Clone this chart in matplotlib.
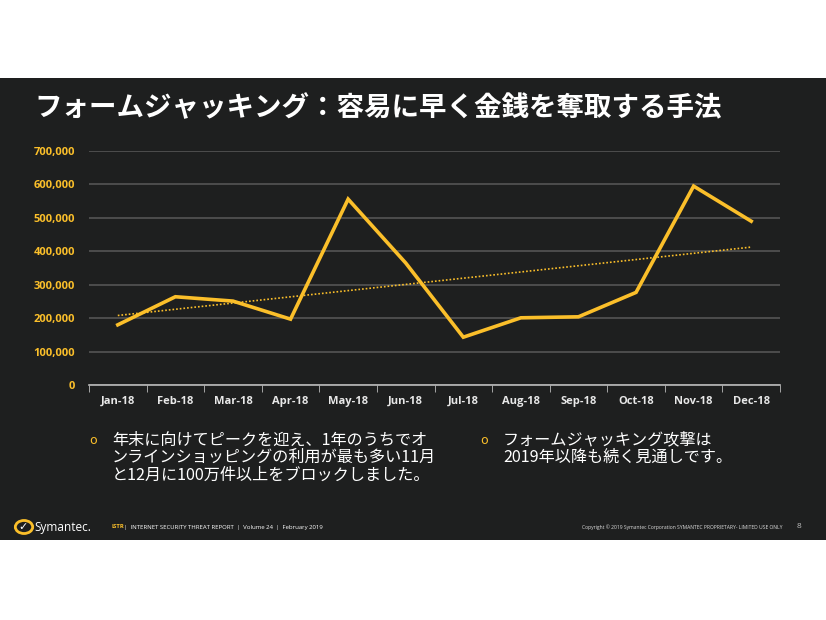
import numpy as np
import matplotlib.pyplot as plt
from matplotlib.patches import Rectangle, Circle

plt.rcParams['font.family'] = ['Noto Sans CJK JP', 'DejaVu Sans']

# データ
months = ['Jan-18', 'Feb-18', 'Mar-18', 'Apr-18', 'May-18', 'Jun-18',
          'Jul-18', 'Aug-18', 'Sep-18', 'Oct-18', 'Nov-18', 'Dec-18']
blocked = [180000, 264000, 251000, 197000, 556000, 365000,
           143000, 201000, 204000, 277000, 595000, 490000]
yticks = [0, 100000, 200000, 300000, 400000, 500000, 600000, 700000]

title = 'フォームジャッキング：容易に早く金銭を奪取する手法'
bullet1 = ['年末に向けてピークを迎え、1年のうちでオ',
           'ンラインショッピングの利用が最も多い11月',
           'と12月に100万件以上をブロックしました。']
bullet2 = ['フォームジャッキング攻撃は',
           '2019年以降も続く見通しです。']

yellow = '#fbbf2a'
bg = '#1e1f1f'

fig = plt.figure(figsize=(8.26, 6.2), dpi=100)
fig.patch.set_facecolor('white')
# スライドの黒い部分
fig.patches.append(Rectangle((0, 1 - 540 / 620), 1, 462 / 620, transform=fig.transFigure,
                             facecolor=bg, edgecolor='none', zorder=-5))

ax = fig.add_axes([89 / 826, 1 - 385 / 620, 691 / 826, 234 / 620], zorder=2)
ax.set_facecolor(bg)
x = np.arange(len(months))
ax.plot(x, blocked, color=yellow, lw=2.6, solid_joinstyle='miter', zorder=3)

# 線形近似（トレンドライン）
k, b = np.polyfit(x, blocked, 1)
ax.plot(x, k * x + b, color=yellow, lw=1.2, ls=(0, (1, 1.2)), zorder=2)

ax.set_xlim(-0.5, len(months) - 0.5)
ax.set_ylim(0, 700000)
ax.set_yticks(yticks)
ax.set_yticklabels(['{:,}'.format(v) for v in yticks], color=yellow,
                   fontsize=8, fontweight='bold', family=['Open Sans', 'DejaVu Sans'])
ax.set_xticks(x)
ax.set_xticklabels(months, color='#e8e8e8', fontsize=8, fontweight='bold',
                   family=['Open Sans', 'DejaVu Sans'])
ax.set_xticks(np.arange(-0.5, len(months), 1), minor=True)
ax.tick_params(axis='x', which='major', length=0, pad=8)
ax.tick_params(axis='x', which='minor', length=5, color='#bbbbbb', direction='out')
ax.tick_params(axis='y', length=0, pad=10)
ax.grid(axis='y', color='#555555', lw=1.2)
ax.set_axisbelow(True)
for s in ['top', 'right', 'left']:
    ax.spines[s].set_visible(False)
ax.spines['bottom'].set_color('#bbbbbb')
ax.spines['bottom'].set_linewidth(1.2)

# タイトル
fig.text(34 / 826, 1 - 108 / 620, title, color='white', fontsize=19.8,
         fontweight='bold', va='center', ha='left')

# 箇条書き
def bullets(x0, lines):
    fig.text(x0 / 826, 1 - 441 / 620, 'o', color=yellow, fontsize=9,
             va='center', ha='left', family=['DejaVu Sans'])
    for i, t in enumerate(lines):
        fig.text((x0 + 23) / 826, 1 - (440 + i * 17.5) / 620, t, color='white',
                 fontsize=11.6, va='center', ha='left')

bullets(89, bullet1)
bullets(480, bullet2)

# フッター
fig.patches.append(Circle((24 / 826, 1 - 527 / 620), 0.0105, transform=fig.transFigure,
                          facecolor='none', edgecolor=yellow, lw=2, zorder=2))
fig.text(23 / 826, 1 - 527 / 620, '✓', color='white', fontsize=8, fontweight='bold',
         ha='center', va='center', family=['DejaVu Sans'])
fig.text(34 / 826, 1 - 527 / 620, 'Symantec.', color='white', fontsize=8.5,
         ha='left', va='center', family=['Open Sans', 'DejaVu Sans'])
fig.text(112 / 826, 1 - 527 / 620, 'ISTR', color=yellow, fontsize=4.3,
         fontweight='bold', ha='left', va='center', family=['Open Sans', 'DejaVu Sans'])
fig.text(124 / 826, 1 - 527 / 620,
         '|  INTERNET SECURITY THREAT REPORT  |  Volume 24  |  February 2019',
         color='white', fontsize=4.3, ha='left', va='center',
         family=['Open Sans', 'DejaVu Sans'])
fig.text(783 / 826, 1 - 527 / 620,
         'Copyright © 2019 Symantec Corporation SYMANTEC PROPRIETARY- LIMITED USE ONLY',
         color='#dddddd', fontsize=3.6, ha='right', va='center',
         family=['Open Sans', 'DejaVu Sans'])
fig.text(797 / 826, 1 - 526 / 620, '8', color='#bbbbbb', fontsize=6,
         ha='left', va='center', family=['Open Sans', 'DejaVu Sans'])

fig.savefig('out.png', dpi=100, facecolor=fig.get_facecolor())
